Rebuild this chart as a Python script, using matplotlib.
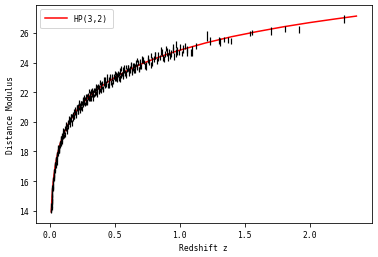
"""Hubble diagram: SN Ia distance modulus vs redshift with HP(3,2) fit"""

import matplotlib
matplotlib.use("Agg")
import matplotlib.pyplot as plt

z_low = [0.0101, 0.0105, 0.0110, 0.0114, 0.0120, 0.0124, 0.0130, 0.0135, 0.0140, 0.0146,
         0.0150, 0.0155, 0.0160, 0.0165, 0.0170, 0.0176, 0.0180, 0.0186, 0.0190, 0.0196,
         0.0200, 0.0210, 0.0220, 0.0228, 0.0240, 0.0248, 0.0260, 0.0268, 0.0280, 0.0290,
         0.0300, 0.0315, 0.0330, 0.0345, 0.0360, 0.0378, 0.0400, 0.0420, 0.0440, 0.0460,
         0.0480, 0.0500, 0.0520, 0.0540, 0.0560, 0.0580, 0.0600, 0.0625, 0.0650, 0.0675,
         0.0700, 0.0725, 0.0750, 0.0775, 0.0800, 0.0825, 0.0850, 0.0875, 0.0900, 0.0925,
         0.0950, 0.0975,
         0.034, 0.038, 0.043, 0.047, 0.051, 0.055, 0.059, 0.063, 0.067, 0.071,
         0.074, 0.078, 0.082, 0.086, 0.089, 0.093, 0.097]
mb_low = [14.06, 13.95, 14.34, 14.06, 14.35, 14.17, 14.58, 14.56, 14.83, 14.64,
          14.86, 14.70, 15.09, 15.02, 15.02, 15.41, 15.08, 15.35, 15.30, 15.59,
          15.56, 15.47, 15.86, 15.58, 15.88, 15.70, 16.11, 16.07, 16.36, 16.15,
          16.39, 16.27, 16.69, 16.65, 16.69, 17.10, 16.85, 17.16, 17.17, 17.48,
          17.51, 17.40, 17.78, 17.51, 17.77, 17.60, 17.99, 17.97, 18.25, 18.05,
          18.30, 18.15, 18.55, 18.48, 18.49, 18.87, 18.56, 18.83, 18.80, 19.08,
          19.07, 18.93,
          16.42, 17.13, 17.05, 17.52, 17.26, 17.83, 18.17, 17.85, 18.23, 18.04,
          18.59, 18.37, 18.89, 18.53, 18.85, 18.60, 19.20]
err_low = [0.14, 0.11, 0.17, 0.12, 0.15, 0.13, 0.19, 0.12, 0.16, 0.14,
           0.11, 0.18, 0.13, 0.15, 0.12, 0.20, 0.14, 0.16, 0.13, 0.17,
           0.14, 0.11, 0.17, 0.12, 0.15, 0.13, 0.19, 0.12, 0.16, 0.14,
           0.11, 0.18, 0.13, 0.15, 0.12, 0.20, 0.14, 0.16, 0.13, 0.17,
           0.14, 0.11, 0.17, 0.12, 0.15, 0.13, 0.19, 0.12, 0.16, 0.14,
           0.11, 0.18, 0.13, 0.15, 0.12, 0.20, 0.14, 0.16, 0.13, 0.17,
           0.14, 0.11,
           0.15, 0.12, 0.18, 0.14, 0.16, 0.13, 0.19, 0.15, 0.12, 0.17,
           0.14, 0.16, 0.13, 0.18, 0.15, 0.12, 0.17]

# 0.1 < z < 0.4
z_mid = [0.102, 0.106, 0.110, 0.114, 0.118, 0.122, 0.126, 0.130, 0.134, 0.138,
         0.142, 0.146, 0.150, 0.154, 0.158, 0.162, 0.166, 0.170, 0.174, 0.178,
         0.182, 0.186, 0.190, 0.194, 0.198, 0.202, 0.206, 0.210, 0.214, 0.218,
         0.222, 0.226, 0.230, 0.234, 0.238, 0.242, 0.246, 0.250, 0.254, 0.258,
         0.262, 0.266, 0.270, 0.274, 0.278, 0.282, 0.286, 0.290, 0.294, 0.298,
         0.302, 0.306, 0.310, 0.314, 0.318, 0.322, 0.326, 0.330, 0.334, 0.338,
         0.342, 0.346, 0.350, 0.354, 0.358, 0.362, 0.366, 0.370, 0.374, 0.378,
         0.382, 0.386, 0.390, 0.394, 0.398,
         0.104, 0.112, 0.120, 0.128, 0.136, 0.144, 0.152, 0.160, 0.168, 0.176,
         0.184, 0.192, 0.200, 0.208, 0.216, 0.224, 0.232, 0.240, 0.248, 0.256,
         0.264, 0.272, 0.280, 0.288, 0.296, 0.304, 0.312, 0.320, 0.328, 0.336,
         0.344, 0.352, 0.360, 0.368, 0.376, 0.384, 0.392]
mb_mid = [19.01, 19.37, 19.32, 19.16, 19.57, 19.47, 19.81, 19.52, 19.74, 19.96,
          19.63, 20.02, 20.00, 20.18, 19.95, 20.38, 20.16, 20.44, 20.22, 20.46,
          20.72, 20.32, 20.58, 20.72, 20.58, 20.62, 20.95, 20.85, 20.65, 21.02,
          20.89, 21.20, 20.88, 21.08, 21.27, 20.91, 21.28, 21.23, 21.39, 21.14,
          21.55, 21.32, 21.57, 21.34, 21.56, 21.80, 21.38, 21.63, 21.74, 21.59,
          21.62, 21.93, 21.82, 21.61, 21.97, 21.82, 22.12, 21.79, 21.97, 22.15,
          21.78, 22.13, 22.07, 22.22, 21.97, 22.36, 22.12, 22.37, 22.13, 22.34,
          22.57, 22.14, 22.38, 22.49, 22.33,
          19.43, 19.06, 19.65, 19.32, 19.86, 20.24, 19.83, 20.39, 19.91, 20.51,
          20.36, 20.89, 20.42, 20.99, 20.71, 21.32, 20.80, 21.24, 20.89, 21.56,
          21.65, 21.18, 21.69, 21.28, 21.75, 22.07, 21.59, 22.10, 21.57, 22.12,
          21.92, 22.40, 21.87, 22.41, 22.11, 22.68, 22.13]
err_mid = [0.12, 0.15, 0.11, 0.17, 0.13, 0.10, 0.16, 0.14, 0.12, 0.18,
           0.11, 0.15, 0.13, 0.17, 0.12, 0.14, 0.16, 0.11, 0.19, 0.13,
           0.12, 0.15, 0.11, 0.17, 0.13, 0.10, 0.16, 0.14, 0.12, 0.18,
           0.11, 0.15, 0.13, 0.17, 0.12, 0.14, 0.16, 0.11, 0.19, 0.13,
           0.12, 0.15, 0.11, 0.17, 0.13, 0.10, 0.16, 0.14, 0.12, 0.18,
           0.11, 0.15, 0.13, 0.17, 0.12, 0.14, 0.16, 0.11, 0.19, 0.13,
           0.12, 0.15, 0.11, 0.17, 0.13, 0.10, 0.16, 0.14, 0.12, 0.18,
           0.11, 0.15, 0.13, 0.17, 0.12,
           0.16, 0.13, 0.18, 0.15, 0.20, 0.14, 0.17, 0.15, 0.19, 0.13,
           0.16, 0.13, 0.18, 0.15, 0.20, 0.14, 0.17, 0.15, 0.19, 0.13,
           0.16, 0.13, 0.18, 0.15, 0.20, 0.14, 0.17, 0.15, 0.19, 0.13,
           0.16, 0.13, 0.18, 0.15, 0.20, 0.14, 0.17]

# 0.4 < z < 0.7
z_far = [0.403, 0.409, 0.415, 0.421, 0.427, 0.433, 0.439, 0.445, 0.451, 0.457,
         0.463, 0.469, 0.475, 0.481, 0.487, 0.493, 0.499, 0.505, 0.511, 0.517,
         0.523, 0.529, 0.535, 0.541, 0.547, 0.553, 0.559, 0.565, 0.571, 0.577,
         0.583, 0.589, 0.595, 0.601, 0.607, 0.613, 0.619, 0.625, 0.631, 0.637,
         0.643, 0.649, 0.655, 0.661, 0.667, 0.673, 0.679, 0.685, 0.691, 0.697,
         0.406, 0.418, 0.430, 0.442, 0.454, 0.466, 0.478, 0.490, 0.502, 0.514,
         0.526, 0.538, 0.550, 0.562, 0.574, 0.586, 0.598, 0.610, 0.622, 0.634,
         0.646, 0.658, 0.670, 0.682, 0.694]
mb_far = [22.60, 22.27, 22.58, 22.80, 22.47, 22.61, 22.85, 22.44, 22.84, 22.70,
          23.08, 22.67, 22.90, 23.03, 22.70, 23.04, 22.95, 23.24, 22.92, 23.09,
          23.27, 22.94, 23.24, 23.45, 23.12, 23.24, 23.48, 23.06, 23.45, 23.30,
          23.68, 23.27, 23.49, 23.61, 23.28, 23.62, 23.52, 23.80, 23.47, 23.64,
          23.81, 23.48, 23.77, 23.97, 23.64, 23.76, 24.00, 23.57, 23.95, 23.81,
          22.17, 22.79, 22.47, 23.02, 22.52, 23.00, 22.52, 23.07, 23.30, 22.88,
          23.21, 22.92, 23.60, 23.21, 23.58, 23.09, 23.63, 23.47, 23.89, 23.38,
          23.78, 23.54, 24.17, 23.53, 24.01]
err_far = [0.14, 0.18, 0.13, 0.20, 0.16, 0.12, 0.19, 0.15, 0.17, 0.22,
           0.14, 0.18, 0.13, 0.20, 0.16, 0.12, 0.19, 0.15, 0.17, 0.22,
           0.14, 0.18, 0.13, 0.20, 0.16, 0.12, 0.19, 0.15, 0.17, 0.22,
           0.14, 0.18, 0.13, 0.20, 0.16, 0.12, 0.19, 0.15, 0.17, 0.22,
           0.14, 0.18, 0.13, 0.20, 0.16, 0.12, 0.19, 0.15, 0.17, 0.22,
           0.17, 0.21, 0.15, 0.19, 0.23, 0.16, 0.20, 0.18, 0.14, 0.22,
           0.17, 0.21, 0.15, 0.19, 0.23, 0.16, 0.20, 0.18, 0.14, 0.22,
           0.17, 0.21, 0.15, 0.19, 0.23]

# 0.7 < z < 1.05
z_deep = [0.704, 0.716, 0.728, 0.740, 0.752, 0.764, 0.776, 0.788, 0.800, 0.812,
          0.824, 0.836, 0.848, 0.860, 0.872, 0.884, 0.896, 0.908, 0.920, 0.932,
          0.944, 0.956, 0.968, 0.980, 0.992, 1.004, 1.016, 1.028, 1.040, 1.052,
          0.710, 0.734, 0.758, 0.782, 0.806, 0.830, 0.854, 0.878, 0.902, 0.926,
          0.950, 0.974]
mb_deep = [23.72, 24.17, 24.04, 23.76, 24.22, 24.04, 24.46, 24.08, 24.26, 24.47,
           24.10, 24.47, 24.36, 24.69, 24.32, 24.58, 24.93, 24.38, 24.74, 24.60,
           24.84, 24.42, 25.20, 24.78, 24.69, 25.06, 24.64, 24.94, 25.10, 24.87,
           24.21, 23.79, 24.22, 23.85, 24.46, 24.26, 24.76, 24.23, 24.72, 24.44,
           25.00, 24.63]
err_deep = [0.18, 0.22, 0.16, 0.25, 0.19, 0.21, 0.17, 0.28, 0.20, 0.23,
            0.18, 0.22, 0.16, 0.25, 0.19, 0.21, 0.17, 0.28, 0.20, 0.23,
            0.18, 0.22, 0.24, 0.25, 0.19, 0.21, 0.17, 0.28, 0.20, 0.23,
            0.22, 0.19, 0.26, 0.20, 0.24, 0.18, 0.27, 0.21, 0.25, 0.19,
            0.23, 0.28]

# sparse high-z points
z_high = [1.058, 1.089, 1.094, 1.124, 1.209, 1.235, 1.302, 1.313, 1.338, 1.371,
          1.395, 1.544, 1.554, 1.704, 1.807, 1.920, 2.267]
mb_high = [24.70, 24.68, 24.79, 25.12, 25.77, 25.44, 25.50, 25.41, 25.55, 25.52,
           25.44, 25.96, 26.04, 26.12, 26.27, 26.23, 26.95]
err_high = [0.25, 0.22, 0.34, 0.17, 0.34, 0.26, 0.26, 0.28, 0.19, 0.20,
            0.21, 0.19, 0.18, 0.26, 0.22, 0.26, 0.27]

# HP(3,2) curve
z_fit = [0.010, 0.015, 0.020, 0.025, 0.030, 0.040, 0.050, 0.060, 0.070, 0.080,
         0.100, 0.120, 0.150, 0.200, 0.250, 0.300, 0.350, 0.400, 0.500, 0.600,
         0.700, 0.800, 0.900, 1.000, 1.200, 1.400, 1.600, 1.800, 2.000, 2.200, 2.360]
mb_fit = [13.92, 14.80, 15.44, 15.93, 16.33, 16.98, 17.48, 17.89, 18.24, 18.55,
          19.06, 19.48, 20.01, 20.70, 21.24, 21.70, 22.08, 22.43, 23.00, 23.48,
          23.89, 24.24, 24.56, 24.84, 25.33, 25.75, 26.10, 26.42, 26.70, 26.95, 27.14]

z_obs = z_low + z_mid + z_far + z_deep + z_high
mb_obs = mb_low + mb_mid + mb_far + mb_deep + mb_high
err_obs = err_low + err_mid + err_far + err_deep + err_high

plt.rcParams['font.family'] = ['DejaVu Sans Mono']
plt.rcParams['font.size'] = 8

fig = plt.figure(figsize=(5.25, 3.5833), dpi=72)
ax = fig.add_axes([0.0952, 0.1318, 0.888, 0.845])

ax.plot(z_fit, mb_fit, color='red', linewidth=1.5, label='HP(3,2)')
ax.errorbar(z_obs, mb_obs, yerr=err_obs, fmt='none', ecolor='black', elinewidth=1.2)

ax.set_xlabel("Redshift z")
ax.set_ylabel("Distance Modulus")
ax.legend(loc='upper left', handlelength=2.7, borderpad=0.65)

fig.savefig("out.png", dpi=72)
plt.close(fig)
